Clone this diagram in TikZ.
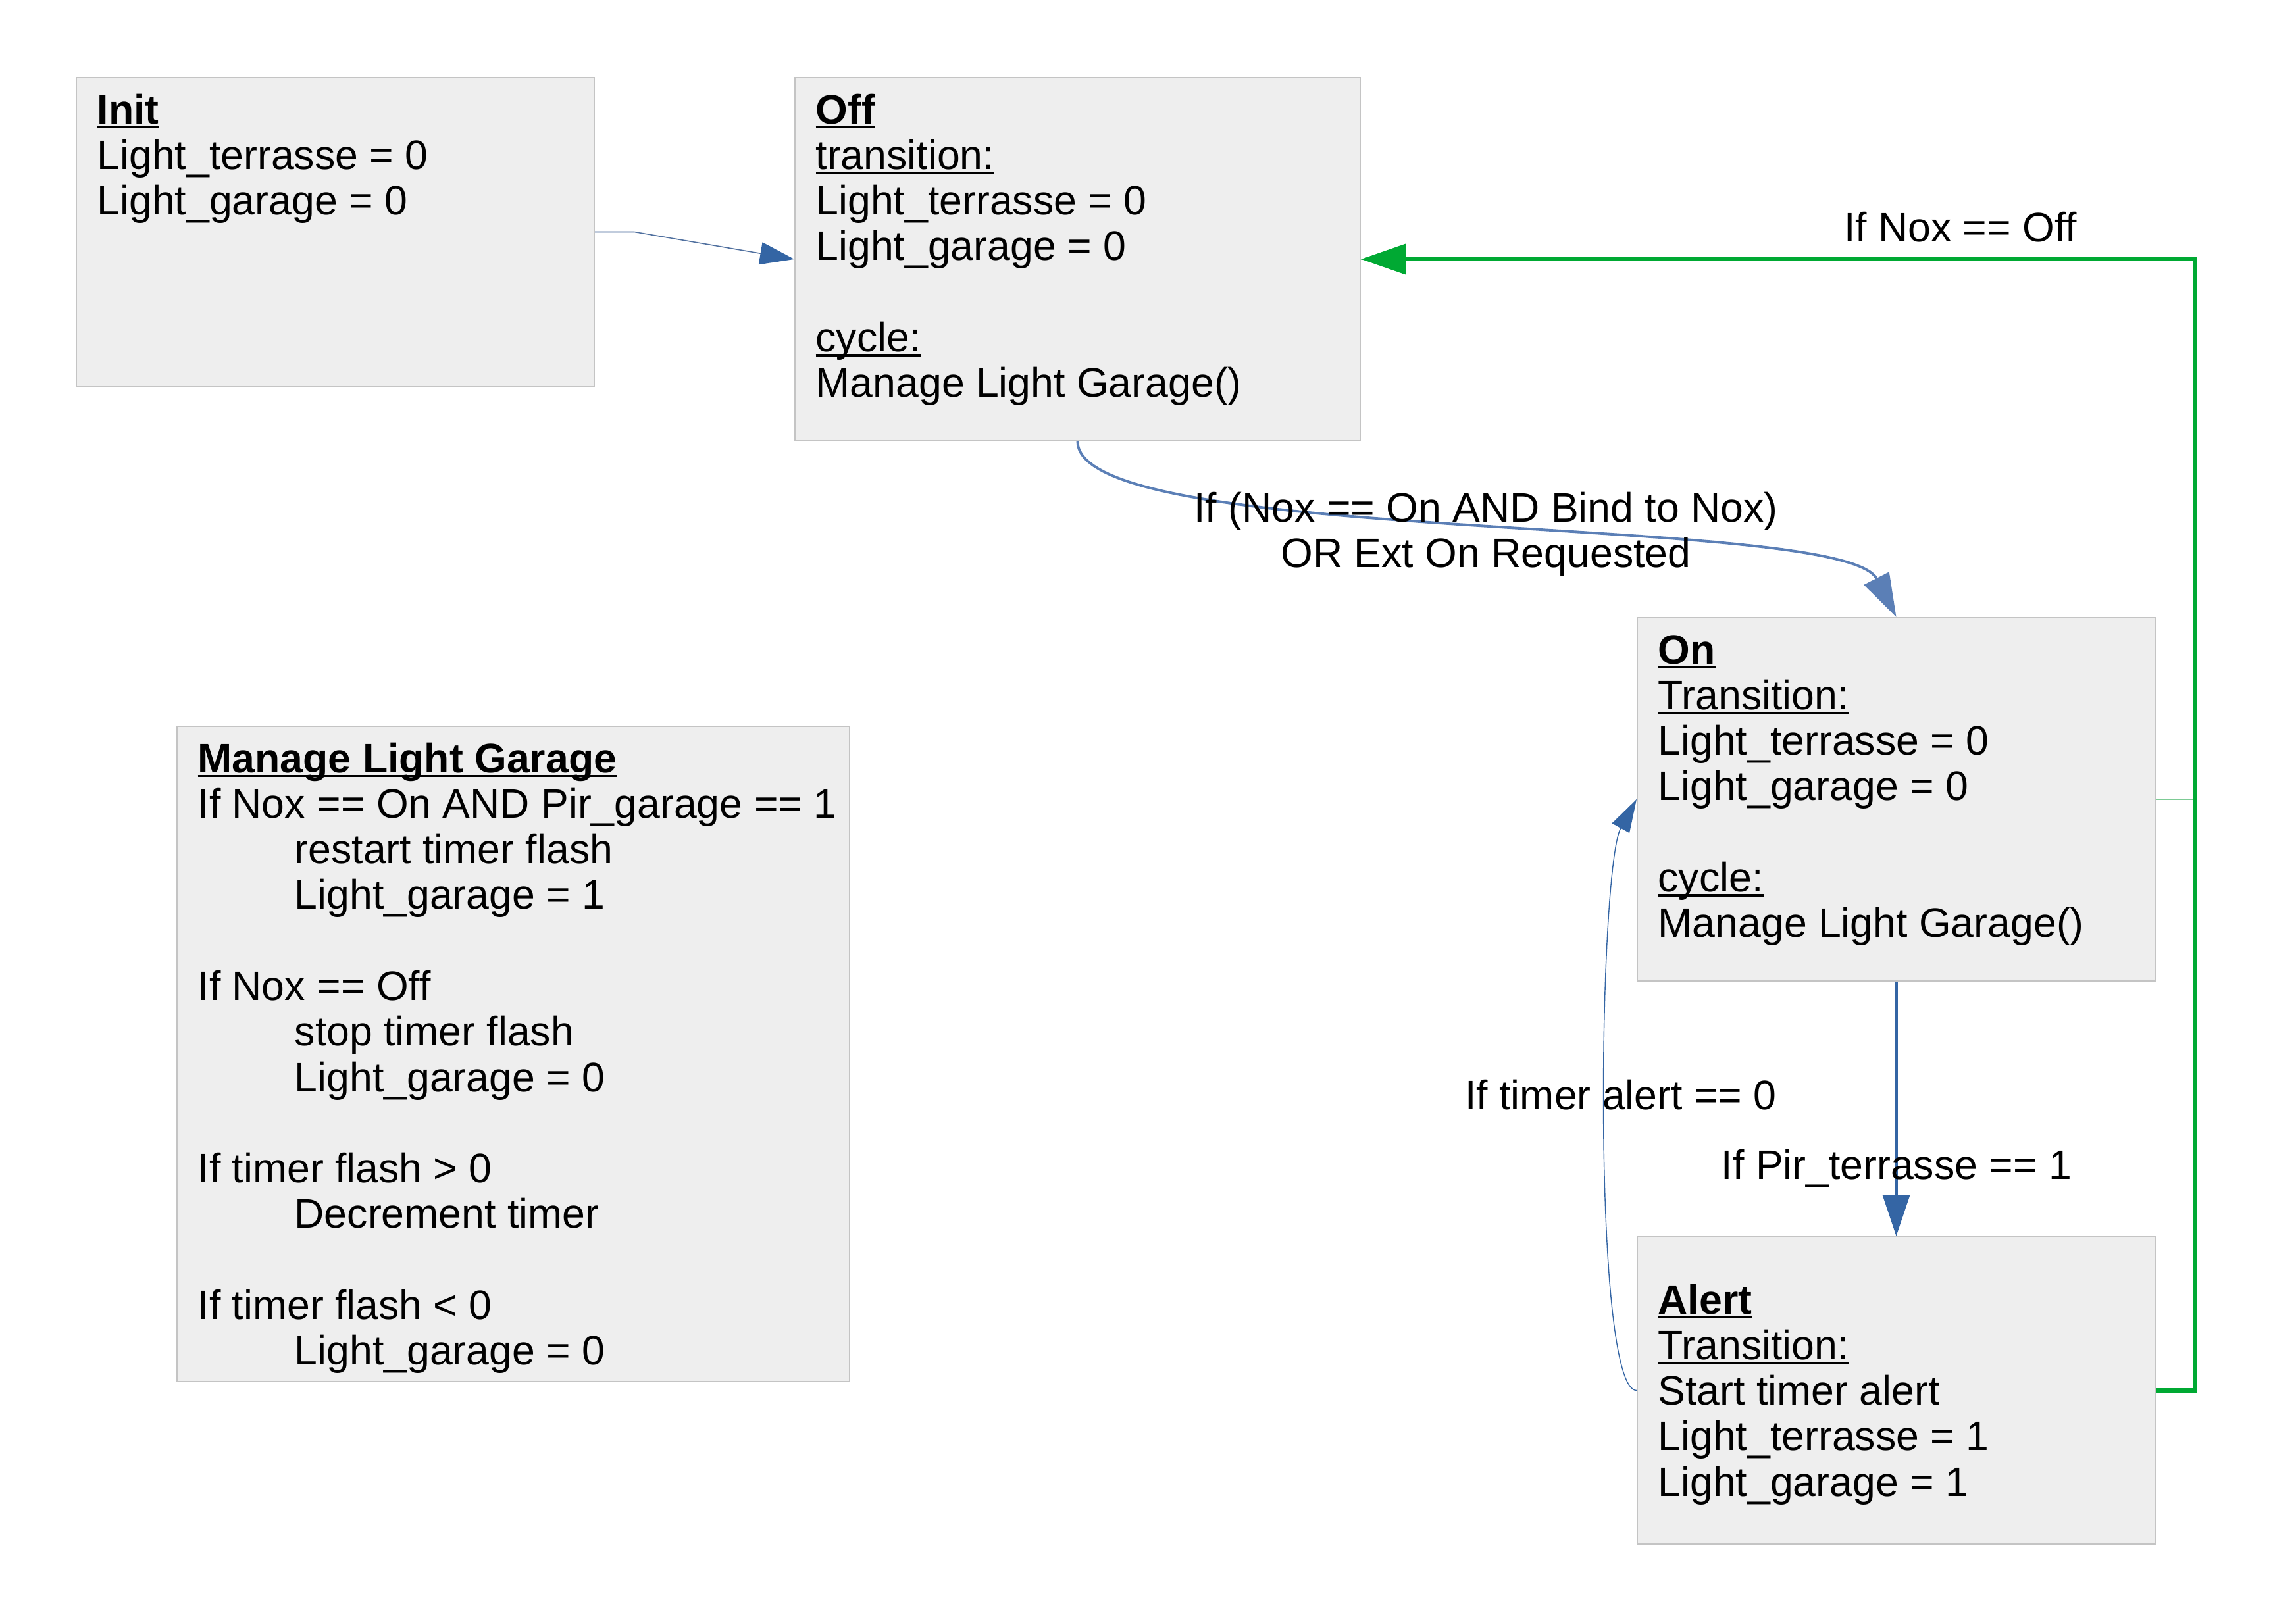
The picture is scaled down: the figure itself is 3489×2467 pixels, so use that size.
\documentclass[tikz,border=0pt]{standalone}
\usepackage{fontspec}
\setmainfont{Liberation Sans}
\usetikzlibrary{arrows.meta,calc,fit}
\definecolor{boxfill}{HTML}{EEEEEE}
\definecolor{boxline}{HTML}{C4C4C4}
\definecolor{blueA}{HTML}{3465A4}
\definecolor{blueB}{HTML}{5B7FB6}
\definecolor{blueC}{HTML}{50709F}
\definecolor{greenA}{HTML}{00A933}
\definecolor{greenB}{HTML}{7DCB95}
\newsavebox\ulbox
\newcommand\myul[1]{\sbox\ulbox{#1}\rlap{\rule[-2pt]{\wd\ulbox}{0.9pt}}\usebox\ulbox}
\tikzset{
  statebox/.style={draw=boxline, line width=0.6pt, fill=boxfill, inner sep=0pt},
  txt/.style={anchor=north west, inner sep=0pt, align=left, font=\fontsize{17.8pt}{19.7pt}\selectfont},
  lbl/.style={inner sep=0pt, align=center, font=\fontsize{17.8pt}{19.7pt}\selectfont},
}
\begin{document}
\begin{tikzpicture}[x=0.01cm,y=-0.01cm]
\fill[white] (0,0) rectangle (3489,2467);
\useasboundingbox (0,0) rectangle (3489,2467);
% boxes
\node[statebox, fit={(116,118) (903,587)}] (init) {};
\node[statebox, fit={(1208,118) (2067,670)}] (off) {};
\node[statebox, fit={(2488,939) (3275,1491)}] (on) {};
\node[statebox, fit={(2488,1880) (3275,2347)}] (alert) {};
\node[statebox, fit={(269,1104) (1291,2100)}] (manage) {};
% texts
\node[txt] (initT) at ($(init.north west)+(32,22)$) {\strut\myul{\textbf{Init}}\\Light\_terrasse = 0\\Light\_garage = 0};
\node[txt] (offT) at ($(off.north west)+(32,22)$) {\strut\myul{\textbf{Off}}\\\myul{transition:}\\Light\_terrasse = 0\\Light\_garage = 0\\[19.7pt]\myul{cycle:}\\Manage Light Garage()};
\node[txt] (onT) at ($(on.north west)+(32,22)$) {\strut\myul{\textbf{On}}\\\myul{Transition:}\\Light\_terrasse = 0\\Light\_garage = 0\\[19.7pt]\myul{cycle:}\\Manage Light Garage()};
\node[txt] (alertT) at ($(alert.north west)+(32,69)$) {\strut\myul{\textbf{Alert}}\\\myul{Transition:}\\Start timer alert\\Light\_terrasse = 1\\Light\_garage = 1};
\node[txt] (manageT) at ($(manage.north west)+(32,22)$) {\strut\myul{\textbf{Manage Light Garage}}\\If Nox == On AND Pir\_garage == 1\\\hspace*{1.47cm}restart timer flash\\\hspace*{1.47cm}Light\_garage = 1\\[19.7pt]If Nox == Off\\\hspace*{1.47cm}stop timer flash\\\hspace*{1.47cm}Light\_garage = 0\\[19.7pt]If timer flash > 0\\\hspace*{1.47cm}Decrement timer\\[19.7pt]If timer flash < 0\\\hspace*{1.47cm}Light\_garage = 0};
% connectors
\coordinate (gx) at (3335,0);
\draw[blueC, line width=0.45pt, -{Triangle[length=0.52cm,width=0.34cm,fill=blueA,color=blueA]}]
  (init.east) -- ++(60,0) -- (off.west);
\draw[blueB, line width=1.1pt, -{Triangle[length=0.66cm,width=0.42cm]}]
  (off.south) .. controls +(0,160) and +(-81,-159) .. (on.north);
\draw[blueA, line width=1.6pt, -{Triangle[length=0.62cm,width=0.4cm]}]
  (on.south) -- (alert.north);
\draw[blueA, line width=0.4pt, -{Triangle[length=0.5cm,width=0.3cm]}]
  (alert.west) .. controls +(-68,0) and +(-58,105) .. (on.west);
\draw[greenB, line width=0.4pt] (on.east) -- (on.east -| gx) -- (gx |- off.east) -- (off.east);
\draw[greenA, line width=1.9pt, line join=miter, -{Triangle[length=0.68cm,width=0.45cm]}]
  (alert.east) -- (alert.east -| gx) -- (gx |- off.east) -- (off.east);
% labels
\node[lbl] (lNox) at (2979,345) {If Nox == Off};
\node[lbl] (lOn) at (2258,812) {If (Nox == On AND Bind to Nox)\\OR Ext On Requested};
\node[lbl] (lTimer) at (2463,1664) {If timer alert == 0};
\node[lbl] (lPir) at (2882,1776) {If Pir\_terrasse == 1};
\end{tikzpicture}
\end{document}
